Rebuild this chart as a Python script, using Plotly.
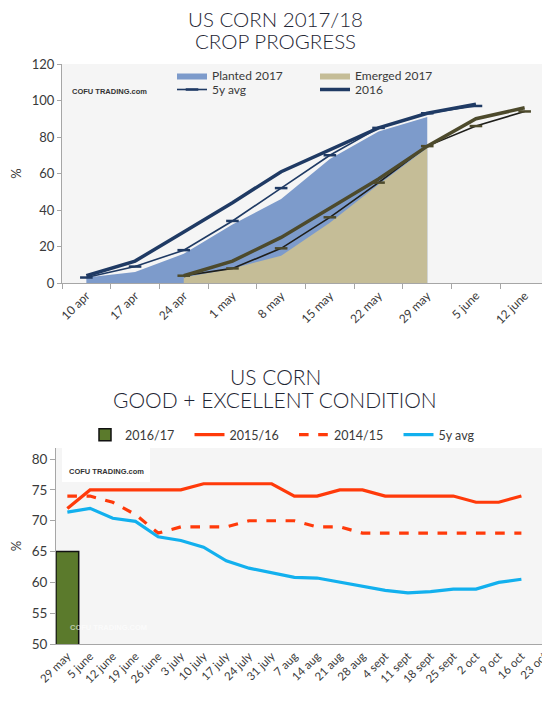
import plotly.graph_objects as go

# page has an 8px body margin; figure fills the rest of the 550x707 window
OFF = 8
W, H = 550 - OFF, 707 - OFF

# ---------------- Top chart data (crop progress, %) ----------------
weeks_top = ["10 apr", "17 apr", "24 apr", "1 may", "8 may", "15 may",
             "22 may", "29 may", "5 june", "12 june"]
planted_2017 = [3, 6, 16, 32, 46, 68, 83, 91]
emerged_2017 = [3, 8, 15, 33, 54, 74]
planted_5y = [3, 9, 18, 34, 52, 70, 85, 93, 97]
planted_2016 = [4, 12, 28, 44, 61, 73, 85, 93, 98]
emerged_5y = [4, 8, 19, 36, 55, 75, 86, 94]
emerged_2016 = [4, 12, 25, 41, 57, 75, 90, 96]
y_ticks_top = [0, 20, 40, 60, 80, 100, 120]

# ---------------- Bottom chart data (good + excellent, %) ----------------
weeks_bottom = ["29 may", "5 june", "12 june", "19 june", "26 june", "3 july",
                "10 july", "17 july", "24 july", "31 july", "7 aug", "14 aug",
                "21 aug", "28 aug", "4 sept", "11 sept", "18 sept", "25 sept",
                "2 oct", "9 oct", "16 oct", "23 oct", "30 oct"]
cond_2016_17 = [65]
cond_2015_16 = [72, 75, 75, 75, 75, 75, 76, 76, 76, 76, 74, 74, 75, 75,
                74, 74, 74, 74, 73, 73, 74]
cond_2014_15 = [74, 74, 73, 71, 68, 69, 69, 69, 70, 70, 70, 69, 69, 68,
                68, 68, 68, 68, 68, 68, 68]
cond_5y = [71.4, 72.0, 70.4, 69.9, 67.4, 66.8, 65.7, 63.5, 62.3, 61.6, 60.8,
           60.7, 60.0, 59.3, 58.7, 58.3, 58.5, 58.9, 58.9, 60.0, 60.5]
y_ticks_bottom = [50, 55, 60, 65, 70, 75, 80]


def px(x):
    return min(1.0, max(0.0, (x - OFF) / W))


def py(y):
    return min(1.0, max(0.0, 1 - (y - OFF) / H))


NAVY = "#1f3a64"
OLIVE = "#4d4a2c"
BLUE_FILL = "#7d9bcb"
TAN_FILL = "#c5bd97"
RED = "#ff3a0a"
SKY = "#12b0ee"
TXT = "#3a3a3a"
FONT = "Lato"

fig = go.Figure()

# --- top chart traces ---
fig.add_trace(go.Scatter(
    x=weeks_top[:len(planted_2017)], y=planted_2017, name="Planted 2017",
    mode="lines", fill="tozeroy", fillcolor=BLUE_FILL,
    line=dict(width=0, color=BLUE_FILL), xaxis="x", yaxis="y",
    legend="legend"))
fig.add_trace(go.Scatter(
    x=weeks_top[2:2 + len(emerged_2017)], y=emerged_2017, name="Emerged 2017",
    mode="lines", fill="tozeroy", fillcolor=TAN_FILL,
    line=dict(width=0, color=TAN_FILL), xaxis="x", yaxis="y",
    legend="legend"))
fig.add_trace(go.Scatter(
    x=weeks_top[:len(planted_5y)], y=planted_5y, name="5y avg",
    mode="lines+markers", line=dict(width=1.6, color=NAVY),
    marker=dict(symbol="line-ew", size=9, line=dict(width=2.5, color=NAVY)),
    xaxis="x", yaxis="y", legend="legend3"))
fig.add_trace(go.Scatter(
    x=weeks_top[:len(planted_2016)], y=planted_2016, name="2016",
    mode="lines", line=dict(width=3.5, color=NAVY),
    xaxis="x", yaxis="y", legend="legend3"))
fig.add_trace(go.Scatter(
    x=weeks_top[2:2 + len(emerged_5y)], y=emerged_5y, name="Emerged 5y avg",
    mode="lines+markers", line=dict(width=1.6, color="#1e1e1a"),
    marker=dict(symbol="line-ew", size=9, line=dict(width=2.5, color=OLIVE)),
    xaxis="x", yaxis="y", showlegend=False))
fig.add_trace(go.Scatter(
    x=weeks_top[2:2 + len(emerged_2016)], y=emerged_2016, name="Emerged 2016",
    mode="lines", line=dict(width=3.5, color=OLIVE),
    xaxis="x", yaxis="y", showlegend=False))

# --- bottom chart traces ---
fig.add_trace(go.Bar(
    x=weeks_bottom[:len(cond_2016_17)], y=cond_2016_17, name="2016/17",
    width=1, marker=dict(color="#5b7a2c", line=dict(color="#111111", width=1.5)),
    xaxis="x2", yaxis="y2", legend="legend2"))
fig.add_trace(go.Scatter(
    x=weeks_bottom[:len(cond_2015_16)], y=cond_2015_16, name="2015/16",
    mode="lines", line=dict(width=3.2, color=RED),
    xaxis="x2", yaxis="y2", legend="legend2"))
fig.add_trace(go.Scatter(
    x=weeks_bottom[:len(cond_2014_15)], y=cond_2014_15, name="2014/15",
    mode="lines", line=dict(width=3.2, color=RED, dash="dash"),
    xaxis="x2", yaxis="y2", legend="legend2"))
fig.add_trace(go.Scatter(
    x=weeks_bottom[:len(cond_5y)], y=cond_5y, name="5y avg",
    mode="lines", line=dict(width=3.2, color=SKY),
    xaxis="x2", yaxis="y2", legend="legend2"))

tickfont = dict(family=FONT, size=12, color=TXT)

fig.update_layout(
    width=W, height=H,
    margin=dict(l=0, r=0, t=0, b=0),
    paper_bgcolor="white",
    plot_bgcolor="#f5f5f5",
    font=dict(family=FONT, color=TXT),
    barmode="overlay",
    xaxis=dict(
        domain=[px(62), px(549)], anchor="y", type="category",
        categoryorder="array", categoryarray=weeks_top,
        range=[-0.5, len(weeks_top) - 0.5],
        showline=True, linecolor="#a6a6a6", linewidth=1,
        ticks="outside", tickson="boundaries", ticklen=5, tickcolor="#a6a6a6",
        tickangle=-45, tickfont=tickfont, showgrid=False, automargin=False,
        zeroline=False),
    yaxis=dict(
        domain=[py(283), py(64)], anchor="x", range=[0, 120],
        tickvals=y_ticks_top, showline=True, linecolor="#a6a6a6",
        ticks="outside", ticklen=4, tickcolor="#a6a6a6",
        tickfont=dict(family=FONT, size=13, color=TXT),
        showgrid=False, zeroline=False, automargin=False,
        title=dict(text="%", font=dict(family=FONT, size=13, color=TXT),
                   standoff=16)),
    xaxis2=dict(
        domain=[px(56), 1.0], anchor="y2", type="category",
        categoryorder="array", categoryarray=weeks_bottom,
        range=[-0.5, 21.26],
        showline=True, linecolor="#a6a6a6", linewidth=1,
        ticks="", tickangle=-45, tickfont=dict(family=FONT, size=11.5, color=TXT),
        showgrid=False, automargin=False, zeroline=False),
    yaxis2=dict(
        domain=[py(644), py(448)], anchor="x2", range=[50, 81.8],
        tickvals=y_ticks_bottom, showline=True, linecolor="#a6a6a6",
        ticks="outside", ticklen=5, tickcolor="#a6a6a6",
        tickfont=dict(family=FONT, size=13.5, color=TXT),
        showgrid=False, zeroline=False, automargin=False,
        title=dict(text="%", font=dict(family=FONT, size=13, color=TXT),
                   standoff=16)),
    legend=dict(
        x=px(172), y=py(61), xanchor="left", yanchor="top",
        orientation="h", entrywidth=98, entrywidthmode="pixels",
        bgcolor="rgba(0,0,0,0)", font=dict(family=FONT, size=12, color=TXT),
        itemclick=False, itemdoubleclick=False, traceorder="normal"),
    legend3=dict(
        x=px(172), y=py(75), xanchor="left", yanchor="top",
        orientation="h", entrywidth=98, entrywidthmode="pixels",
        bgcolor="rgba(0,0,0,0)", font=dict(family=FONT, size=12, color=TXT),
        itemclick=False, itemdoubleclick=False, traceorder="normal"),
    legend2=dict(
        x=px(85), y=py(435), xanchor="left", yanchor="middle",
        orientation="h", entrywidth=59.5, entrywidthmode="pixels",
        bgcolor="rgba(0,0,0,0)", font=dict(family=FONT, size=12.5, color=TXT),
        itemclick=False, itemdoubleclick=False, traceorder="normal"),
    showlegend=True,
)

# Titles (one annotation per line)
title_font_top = dict(family=FONT, size=20.5, color="#1e2533", weight=300)
title_font_bot = dict(family=FONT, size=21, color="#1e2533", weight=300)
for txt, yc, f in [("US CORN 2017/18", 19, title_font_top),
                   ("CROP PROGRESS", 41, title_font_top),
                   ("US CORN", 376, title_font_bot),
                   ("GOOD + EXCELLENT CONDITION", 399, title_font_bot)]:
    fig.add_annotation(text=txt, x=px(275), y=py(yc), xref="paper",
                       yref="paper", showarrow=False, font=f, borderpad=0,
                       xanchor="center", yanchor="middle")

# Logos / watermark
fig.add_shape(type="rect", xref="paper", yref="paper",
              x0=px(62), x1=px(150), y0=py(482), y1=py(445),
              fillcolor="white", line=dict(width=0), layer="below")
logo_font = dict(family="Liberation Sans", size=7.5, color="#333333",
                 weight="bold")
fig.add_annotation(text="COFU TRADING.com", x=px(70), y=py(92), xref="paper",
                   yref="paper", showarrow=False, xanchor="left",
                   yanchor="middle", font=logo_font)
fig.add_annotation(text="COFU TRADING.com", x=px(67), y=py(471), xref="paper",
                   yref="paper", showarrow=False, xanchor="left",
                   yanchor="middle", font=logo_font)
fig.add_annotation(text="COFU TRADING.COM", x=px(68), y=py(627), xref="paper",
                   yref="paper", showarrow=False, xanchor="left",
                   yanchor="middle",
                   font=dict(family="Liberation Sans", size=7.5,
                             color="rgba(255,255,255,0.6)", weight="bold"))

fig.write_html("out.html")
